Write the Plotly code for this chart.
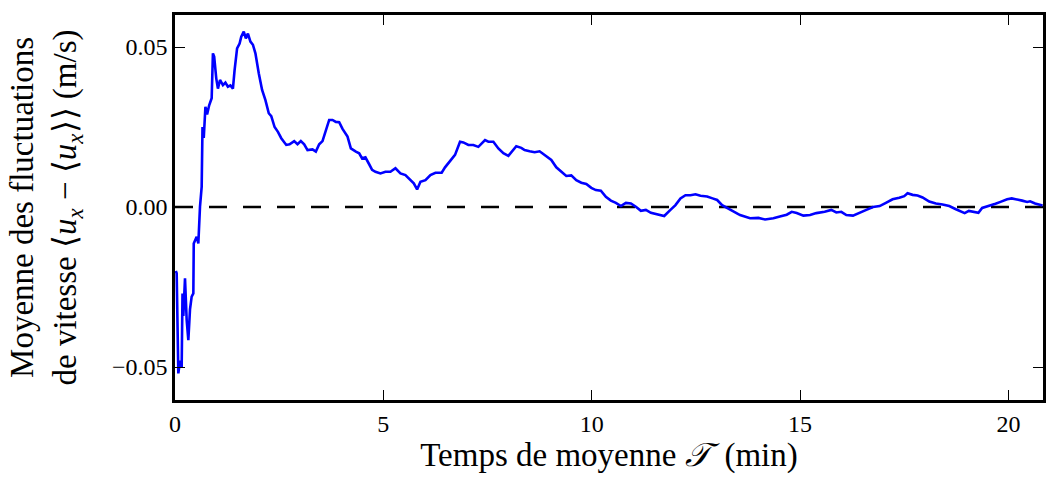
import plotly.graph_objects as go

# Averaging time T (min) and mean velocity fluctuation <u_x - <u_x>> (m/s)
temps_min = [
    0.02, 0.04, 0.08, 0.12, 0.16, 0.18, 0.20, 0.24, 0.28, 0.32, 0.36, 0.40, 0.44,
    0.45, 0.52, 0.56, 0.60, 0.64, 0.66, 0.69, 0.73, 0.77, 0.82, 0.88, 0.91, 0.94,
    0.99, 1.03, 1.08, 1.15, 1.21, 1.27, 1.33, 1.39, 1.43, 1.49, 1.55, 1.59, 1.65,
    1.70, 1.75, 1.81, 1.87, 1.93, 2.01, 2.09, 2.17, 2.25, 2.31, 2.39, 2.47, 2.55,
    2.67, 2.75, 2.86, 2.94, 3.02, 3.10, 3.18, 3.30, 3.38, 3.46, 3.54, 3.62, 3.70,
    3.78, 3.86, 3.94, 4.02, 4.14, 4.22, 4.34, 4.42, 4.49, 4.57, 4.65, 4.73, 4.81,
    4.93, 5.05, 5.17, 5.29, 5.41, 5.53, 5.65, 5.73, 5.81, 5.89, 6.01, 6.13, 6.25,
    6.32, 6.40, 6.48, 6.60, 6.72, 6.84, 6.92, 7.04, 7.16, 7.28, 7.36, 7.44, 7.52,
    7.64, 7.76, 7.88, 8.00, 8.11, 8.19, 8.31, 8.39, 8.51, 8.63, 8.75, 8.87, 9.03,
    9.15, 9.27, 9.39, 9.51, 9.63, 9.75, 9.87, 9.99, 10.10, 10.22, 10.34, 10.46,
    10.58, 10.70, 10.82, 10.94, 11.06, 11.18, 11.30, 11.42, 11.58, 11.74, 11.89,
    12.01, 12.13, 12.25, 12.37, 12.49, 12.61, 12.77, 12.90, 13.01, 13.13, 13.32,
    13.56, 13.80, 14.00, 14.16, 14.36, 14.56, 14.68, 14.80, 14.92, 15.08, 15.24,
    15.39, 15.59, 15.75, 15.87, 15.99, 16.11, 16.27, 16.43, 16.59, 16.75, 16.91,
    17.06, 17.22, 17.38, 17.50, 17.58, 17.70, 17.82, 17.94, 18.10, 18.26, 18.42,
    18.58, 18.74, 18.89, 18.95, 19.05, 19.17, 19.28, 19.37, 19.53, 19.69, 19.81,
    19.97, 20.08, 20.21, 20.33, 20.45, 20.52, 20.64, 20.82,
]
moyenne_fluct = [
    -0.0200, -0.0207, -0.0520, -0.0480, -0.0500, -0.0270, -0.0340, -0.0223, -0.0353,
    -0.0416, -0.0320, -0.0280, -0.0270, -0.0114, -0.0093, -0.0114, 0.0001, 0.0063,
    0.0250, 0.0216, 0.0313, 0.0289, 0.0318, 0.0340, 0.0480, 0.0470, 0.0402, 0.0370,
    0.0397, 0.0381, 0.0389, 0.0376, 0.0380, 0.0370, 0.0428, 0.0496, 0.0511, 0.0532,
    0.0548, 0.0527, 0.0542, 0.0517, 0.0507, 0.0480, 0.0418, 0.0366, 0.0334, 0.0293,
    0.0284, 0.0250, 0.0235, 0.0215, 0.0194, 0.0196, 0.0206, 0.0196, 0.0206, 0.0196,
    0.0178, 0.0180, 0.0173, 0.0196, 0.0206, 0.0240, 0.0272, 0.0272, 0.0266, 0.0265,
    0.0244, 0.0220, 0.0183, 0.0173, 0.0168, 0.0152, 0.0155, 0.0136, 0.0116, 0.0110,
    0.0105, 0.0110, 0.0110, 0.0121, 0.0105, 0.0100, 0.0084, 0.0074, 0.0055, 0.0079,
    0.0084, 0.0100, 0.0107, 0.0107, 0.0107, 0.0124, 0.0142, 0.0163, 0.0204, 0.0202,
    0.0194, 0.0194, 0.0188, 0.0198, 0.0209, 0.0204, 0.0204, 0.0183, 0.0168, 0.0160,
    0.0178, 0.0190, 0.0185, 0.0178, 0.0174, 0.0171, 0.0174, 0.0163, 0.0147, 0.0124,
    0.0110, 0.0097, 0.0099, 0.0084, 0.0076, 0.0072, 0.0060, 0.0053, 0.0051, 0.0032,
    0.0020, 0.0013, 0.0003, 0.0013, 0.0011, 0.0001, -0.0012, -0.0009, -0.0018,
    -0.0023, -0.0028, -0.0009, 0.0006, 0.0027, 0.0037, 0.0037, 0.0040, 0.0035,
    0.0033, 0.0027, 0.0022, 0.0006, -0.0007, -0.0025, -0.0035, -0.0034, -0.0039,
    -0.0035, -0.0028, -0.0024, -0.0015, -0.0019, -0.0027, -0.0025, -0.0019, -0.0015,
    -0.0009, -0.0017, -0.0015, -0.0025, -0.0027, -0.0017, -0.0009, 0.0000, 0.0003,
    0.0013, 0.0024, 0.0029, 0.0034, 0.0043, 0.0038, 0.0036, 0.0030, 0.0017, 0.0011,
    0.0008, 0.0003, -0.0007, -0.0015, -0.0019, -0.0012, -0.0015, -0.0018, -0.0003,
    0.0003, 0.0010, 0.0016, 0.0024, 0.0027, 0.0024, 0.0020, 0.0016, 0.0018, 0.0011,
    0.0005,
]

x_ticks = [0, 5, 10, 15, 20]
y_ticks = [-0.05, 0.0, 0.05]
y_tick_labels = ["\u22120.05", "0.00", "0.05"]

FONT = "Liberation Serif"

fig = go.Figure()
fig.add_trace(go.Scatter(
    x=temps_min, y=moyenne_fluct, mode="lines",
    line=dict(color="#0000ff", width=2.6),
    showlegend=False, hoverinfo="skip",
))
fig.add_hline(y=0, line=dict(color="black", width=2.4, dash="18px,16px"), layer="below")

axis_common = dict(
    showgrid=False, zeroline=False,
    showline=True, linecolor="black", linewidth=2.5, mirror="ticks",
    ticks="inside", ticklen=10, tickwidth=1.3, tickcolor="black",
    tickfont=dict(family=FONT, size=24, color="black"),
)

fig.update_layout(
    width=1047, height=478,
    margin=dict(l=175, r=1, t=15, b=78),
    paper_bgcolor="white", plot_bgcolor="white",
    xaxis=dict(
        range=[0, 20.83], tickvals=x_ticks, ticktext=[str(t) for t in x_ticks],
        title=dict(text="Temps de moyenne <i>\U0001D4AF</i>\u2009 (min)",
                   font=dict(family=FONT, size=33, color="black"), standoff=4),
        **axis_common,
    ),
    yaxis=dict(
        range=[-0.0603, 0.06], tickvals=y_ticks, ticktext=y_tick_labels,
        title=dict(text="Moyenne des fluctuations<br>de vitesse \u27E8<i>u</i><sub><i>x</i></sub> \u2212 \u27E8<i>u</i><sub><i>x</i></sub>\u27E9\u27E9 (m/s)",
                   font=dict(family=FONT, size=33, color="black"), standoff=26),
        **axis_common,
    ),
)

fig.write_html("out.html")
